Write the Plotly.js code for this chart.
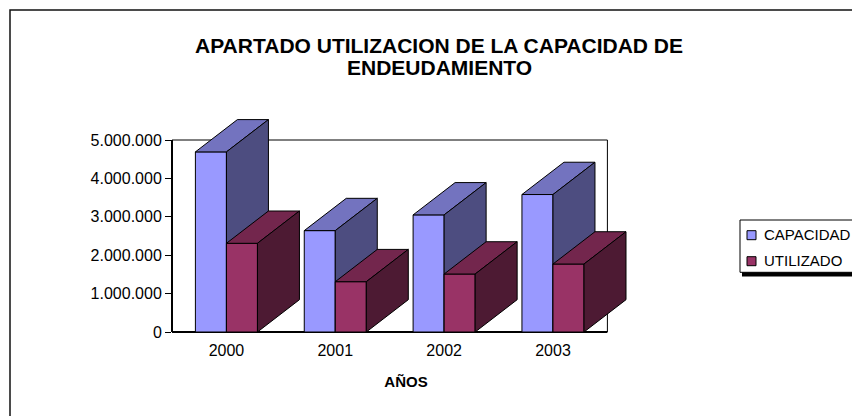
<!DOCTYPE html>
<html><head><meta charset="utf-8">
<script src="https://cdn.plot.ly/plotly-3.0.1.min.js"></script>
<style>html,body{margin:0;padding:0;background:#fff}#chart{width:852px;height:416px}</style>
</head><body><div id="chart"></div>
<script>
// ---- data ----
const years = ['2000', '2001', '2002', '2003'];
const capacidad = [4690000, 2640000, 3050000, 3580000];
const utilizado = [2310000, 1310000, 1510000, 1770000];
const yTickVals = [0, 1000000, 2000000, 3000000, 4000000, 5000000];
const seriesNames = ['CAPACIDAD', 'UTILIZADO'];
const titleLines = ['APARTADO UTILIZACION DE LA CAPACIDAD DE', 'ENDEUDAMIENTO'];
const xTitle = 'AÑOS';

// ---- geometry / style ----
const FONT = 'Liberation Sans, Arial, sans-serif';
const L = 172, R = 640, T = 105, B = 332;           // plot area in px
const pxPerCat = 108.85, pxPerM = 38.4;             // scale
const barW = 0.285;                                 // bar width (category units)
const depthX = 42 / pxPerCat;                       // 3D depth offset
const depthY = 32.3 / pxPerM * 1e6;
const colors = {
  CAPACIDAD: {front: '#9999FF', top: '#7373BF', side: '#4D4D80'},
  UTILIZADO: {front: '#993366', top: '#73264D', side: '#4D1A33'}
};
const px2x = p => (p - L) / (R - L);
const py2y = p => (B - p) / (B - T);

function faces(vals, off) {
  const f = {x: [], y: []}, t = {x: [], y: []}, s = {x: [], y: []};
  vals.forEach((v, i) => {
    const x0 = i + off, x1 = x0 + barW;
    f.x.push(x0, x1, x1, x0, x0, null); f.y.push(0, 0, v, v, 0, null);
    t.x.push(x0, x1, x1 + depthX, x0 + depthX, x0, null);
    t.y.push(v, v, v + depthY, v + depthY, v, null);
    s.x.push(x1, x1 + depthX, x1 + depthX, x1, x1, null);
    s.y.push(0, depthY, v + depthY, v, 0, null);
  });
  return {f, t, s};
}

const traces = [];
[[capacidad, -barW, 'CAPACIDAD'], [utilizado, 0, 'UTILIZADO']].forEach(([vals, off, name]) => {
  const fc = faces(vals, off);
  [['f', 'front'], ['t', 'top'], ['s', 'side']].forEach(([k, c]) => {
    traces.push({
      type: 'scatter', mode: 'lines', name: name,
      x: fc[k].x, y: fc[k].y, fill: 'toself',
      fillcolor: colors[name][c],
      line: {color: '#000', width: 1},
      hoverinfo: 'skip', showlegend: false
    });
  });
});

const shapes = [];
const annotations = [];
// frame (behind bars)
const fx0 = px2x(L), fx1 = px2x(L + 4 * pxPerCat), fy0 = py2y(B), fy1 = py2y(B - 5 * pxPerM);
shapes.push({type: 'line', xref: 'paper', yref: 'paper', x0: fx0, x1: fx1, y0: fy1, y1: fy1, line: {color: '#000', width: 1}, layer: 'below'});
shapes.push({type: 'line', xref: 'paper', yref: 'paper', x0: fx1, x1: fx1, y0: fy0, y1: fy1, line: {color: '#000', width: 1}, layer: 'below'});
shapes.push({type: 'line', xref: 'paper', yref: 'paper', x0: fx0, x1: fx0, y0: fy0, y1: fy1, line: {color: '#000', width: 2}, layer: 'below'});
shapes.push({type: 'line', xref: 'paper', yref: 'paper', x0: fx0, x1: fx1, y0: fy0, y1: fy0, line: {color: '#000', width: 2}, layer: 'below'});
// outer chart border
shapes.push({type: 'rect', xref: 'paper', yref: 'paper', x0: px2x(10), x1: px2x(900), y0: py2y(10), y1: py2y(500), line: {color: '#111', width: 1.5}, layer: 'above'});
// legend box with shadow
shapes.push({type: 'rect', xref: 'paper', yref: 'paper', x0: px2x(742), x1: px2x(880), y0: py2y(224), y1: py2y(276.5), fillcolor: '#000', line: {width: 0}, layer: 'above'});
shapes.push({type: 'rect', xref: 'paper', yref: 'paper', x0: px2x(740), x1: px2x(878), y0: py2y(220), y1: py2y(272.3), fillcolor: '#fff', line: {color: '#000', width: 1}, layer: 'above'});
seriesNames.forEach((n, k) => {
  const top = 230.7 + k * 26;
  shapes.push({type: 'rect', xref: 'paper', yref: 'paper', x0: px2x(747), x1: px2x(756), y0: py2y(top), y1: py2y(top + 9), fillcolor: colors[n].front, line: {color: '#000', width: 1}, layer: 'above'});
  annotations.push({xref: 'paper', yref: 'paper', x: px2x(762), y: py2y(240 + k * 25.7 - 5.3), xanchor: 'left', yanchor: 'middle', showarrow: false, text: n, font: {family: FONT, size: 15, color: '#000'}});
});
// title lines
annotations.push({xref: 'paper', yref: 'paper', x: px2x(439), y: py2y(46), xanchor: 'center', yanchor: 'middle', showarrow: false, text: titleLines[0], font: {family: FONT, size: 21, weight: 'bold', color: '#000'}});
annotations.push({xref: 'paper', yref: 'paper', x: px2x(439), y: py2y(67), xanchor: 'center', yanchor: 'middle', showarrow: false, text: titleLines[1], font: {family: FONT, size: 21, weight: 'bold', color: '#000'}});

const layout = {
  width: 852, height: 416,
  margin: {l: L, r: 852 - R, t: T, b: 416 - B, autoexpand: false},
  paper_bgcolor: '#fff', plot_bgcolor: 'rgba(0,0,0,0)',
  separators: ',.',
  showlegend: false,
  font: {family: FONT, color: '#000'},
  xaxis: {
    type: 'linear', range: [-0.5, -0.5 + (R - L) / pxPerCat],
    tickvals: [0, 1, 2, 3], ticktext: years,
    showline: false, showgrid: false, zeroline: false, ticks: '',
    ticklabelstandoff: 7,
    tickfont: {family: FONT, size: 16, color: '#000'},
    title: {text: xTitle, font: {family: FONT, size: 15, weight: 'bold', color: '#000'}, standoff: 18},
    fixedrange: true
  },
  yaxis: {
    range: [0, (B - T) / pxPerM * 1e6],
    tickvals: yTickVals, tickformat: ',.0f',
    showline: false, showgrid: false, zeroline: false,
    ticks: 'outside', ticklen: 6, tickcolor: '#000', tickwidth: 1,
    tickfont: {family: FONT, size: 16, color: '#000'},
    fixedrange: true
  },
  shapes: shapes,
  annotations: annotations
};

Plotly.newPlot('chart', traces, layout, {staticPlot: true, displayModeBar: false});
</script>
</body></html>
